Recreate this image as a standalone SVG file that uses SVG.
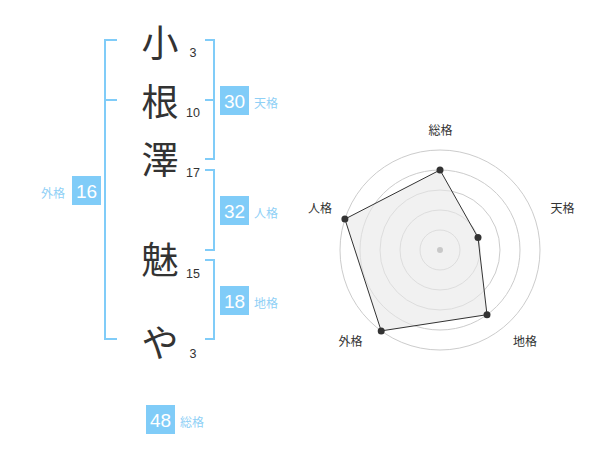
<svg xmlns="http://www.w3.org/2000/svg" width="600" height="470" viewBox="0 0 600 470">
<style>
.br{fill:none;stroke:#80ccf8;stroke-width:2}
.box{fill:#80ccf8}
.bn{font-family:"Liberation Sans",Arial,sans-serif;font-size:19px;fill:#fff;text-anchor:middle}
.bl{font-family:"Noto Sans CJK JP","Noto Sans CJK SC",sans-serif;font-size:12px;fill:#8fd0f6}
.ch{font-family:"Noto Sans CJK JP","Noto Sans CJK SC",sans-serif;font-size:37px;fill:#333;text-anchor:middle}
.sn{font-family:"Liberation Sans",Arial,sans-serif;font-size:12.5px;fill:#333;text-anchor:middle}
.rl{font-family:"Noto Sans CJK JP","Noto Sans CJK SC",sans-serif;font-size:12px;fill:#333;text-anchor:middle}
.ring{fill:none;stroke:#cccccc;stroke-width:1}
.v{fill:#333}
</style>
<rect width="600" height="470" fill="#fff"/>
<g id="connectors">
<path class="br" d="M117,40 H105 V339 H117 M105,100 H117"/>
<path class="br" d="M205,40 H214 V159 H205 M205,100 H214"/>
<path class="br" d="M205,170 H214 V250 H205"/>
<path class="br" d="M205,260 H214 V339 H205"/>
</g>
<g id="chars">
<text class="ch" x="160" y="57">小</text>
<text class="sn" x="193" y="57">3</text>
<text class="ch" x="160" y="116">根</text>
<text class="sn" x="193" y="117">10</text>
<text class="ch" x="160" y="174">澤</text>
<text class="sn" x="193" y="177">17</text>
<text class="ch" x="160" y="274">魅</text>
<text class="sn" x="193" y="278">15</text>
<text class="ch" x="160" y="357">や</text>
<text class="sn" x="193" y="358">3</text>
</g>
<g id="tenkaku">
<rect class="box" x="220" y="86" width="29" height="29"/>
<text class="bn" x="234.5" y="107.5">30</text>
<text class="bl" x="254" y="108">天格</text>
</g>
<g id="jinkaku">
<rect class="box" x="220" y="196" width="29" height="29"/>
<text class="bn" x="234.5" y="217.5">32</text>
<text class="bl" x="254" y="218">人格</text>
</g>
<g id="chikaku">
<rect class="box" x="220" y="286" width="29" height="29"/>
<text class="bn" x="234.5" y="307.5">18</text>
<text class="bl" x="254" y="308">地格</text>
</g>
<g id="gaikaku">
<rect class="box" x="72" y="176" width="29" height="29"/>
<text class="bn" x="86.5" y="197.5">16</text>
<text class="bl" x="41" y="198">外格</text>
</g>
<g id="soukaku">
<rect class="box" x="146" y="405" width="29" height="29"/>
<text class="bn" x="160.5" y="426.5">48</text>
<text class="bl" x="180" y="427">総格</text>
</g>
<g id="radar">
<circle class="ring" cx="440" cy="250" r="20"/>
<circle class="ring" cx="440" cy="250" r="40"/>
<circle class="ring" cx="440" cy="250" r="60"/>
<circle class="ring" cx="440" cy="250" r="80"/>
<circle class="ring" cx="440" cy="250" r="100"/>
<polygon points="440,170 478,237.6 487,314.7 381.2,330.9 344.9,219.1" fill="#e8e8e8" fill-opacity="0.6" stroke="#333" stroke-width="1"/>
<circle cx="440" cy="250" r="3" fill="#c8c8c8"/>
<circle class="v" cx="440" cy="170" r="3.5"/>
<circle class="v" cx="478" cy="237.6" r="3.5"/>
<circle class="v" cx="487" cy="314.7" r="3.5"/>
<circle class="v" cx="381.2" cy="330.9" r="3.5"/>
<circle class="v" cx="344.9" cy="219.1" r="3.5"/>
<text class="rl" x="440.5" y="135">総格</text>
<text class="rl" x="562.5" y="213">天格</text>
<text class="rl" x="525" y="346">地格</text>
<text class="rl" x="350.5" y="346">外格</text>
<text class="rl" x="320" y="213">人格</text>
</g>
</svg>
